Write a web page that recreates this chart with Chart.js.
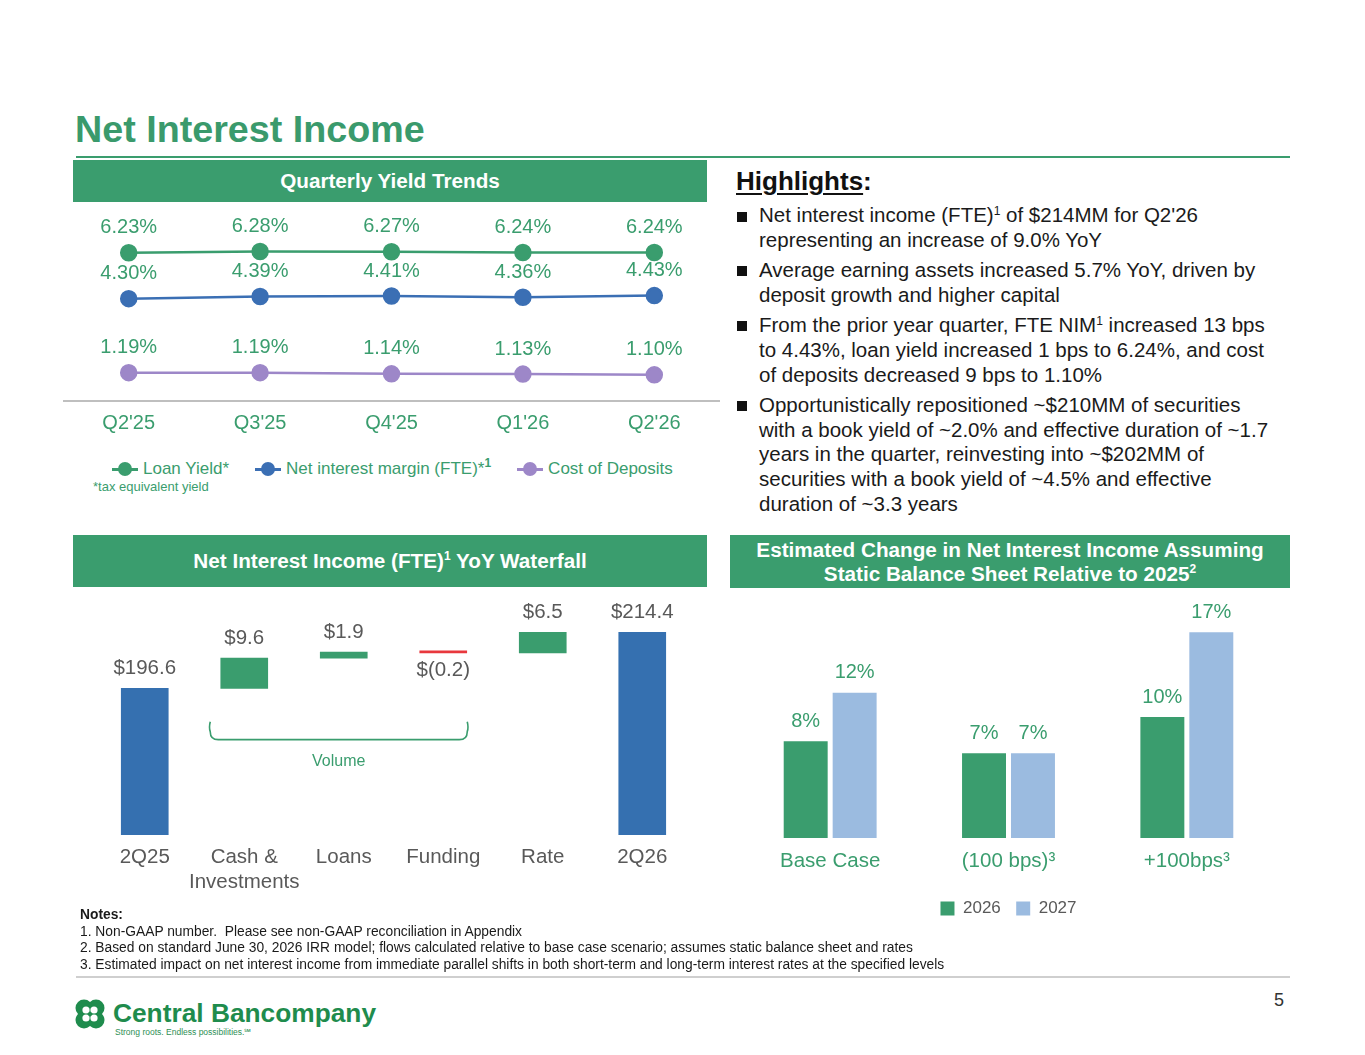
<!DOCTYPE html>
<html><head><meta charset="utf-8">
<script src="https://cdn.jsdelivr.net/npm/chart.js@4.4.1/dist/chart.umd.min.js"></script>
<style>
html,body{margin:0;padding:0;background:#fff;}
body{width:1365px;height:1055px;position:relative;overflow:hidden;font-family:"Liberation Sans",Arial,sans-serif;color:#1a1a1a;}
.abs{position:absolute;}
.title{left:75px;top:107px;font-size:37.7px;font-weight:bold;color:#3A9A6C;line-height:44px;white-space:nowrap;}
.rule{left:76px;top:156px;width:1214px;height:2px;background:#3A9D6E;}
.hdr{background:#3A9D6E;color:#fff;font-weight:bold;display:flex;align-items:center;justify-content:center;text-align:center;font-size:20.7px;line-height:24px;}
.hdr sup{font-size:12px;line-height:0;vertical-align:8px;}
.hl{left:736px;top:166px;font-size:26px;font-weight:bold;line-height:30px;color:#111;}
.hl u{text-decoration-thickness:2px;text-underline-offset:3px;}
.bul{left:737px;top:203px;width:560px;font-size:20.5px;line-height:24.8px;color:#1a1a1a;}
.bul p{margin:0 0 5.4px 0;padding-left:22px;position:relative;white-space:nowrap;}
.bul p::before{content:"";position:absolute;left:0;top:8.5px;width:10px;height:10px;background:#111;}
.bul sup{font-size:12px;line-height:0;vertical-align:7px;}
.lg{left:112px;top:458px;display:flex;align-items:center;font-size:17px;color:#3A9D6E;white-space:nowrap;line-height:22px;}
.lg .it{display:flex;align-items:center;margin-right:26px;}
.lg .mk{position:relative;width:26px;height:14px;margin-right:5px;}
.lg .mk i{position:absolute;left:0;top:6px;width:26px;height:2.5px;}
.lg .mk b{position:absolute;left:6px;top:0;width:14px;height:14px;border-radius:50%;}
.lg sup{font-size:12px;font-weight:bold;line-height:0;vertical-align:7px;}
.fn{left:93px;top:479px;font-size:13px;color:#3A9D6E;line-height:16px;}
.notes{left:80px;top:907px;font-size:13.8px;line-height:16.7px;color:#1a1a1a;white-space:nowrap;}
.grule{left:76px;top:976px;width:1214px;height:2px;background:#CFCFCF;}
.pg{left:1260px;top:989px;width:24px;text-align:right;font-size:18px;color:#333;line-height:22px;}
.logo{left:113px;top:998px;font-size:26.3px;font-weight:bold;color:#1F8C4D;line-height:30px;white-space:nowrap;}
.tag{left:115px;top:1027px;font-size:8.5px;color:#2E8F55;line-height:10px;white-space:nowrap;}
canvas{position:absolute;}
</style>
</head>
<body>
<div class="abs title">Net Interest Income</div>
<div class="abs rule"></div>

<div class="abs hdr" style="left:73px;top:160px;width:634px;height:42px;">Quarterly Yield Trends</div>
<div class="abs hdr" style="left:73px;top:535px;width:634px;height:52px;"><span>Net Interest Income (FTE)<sup>1</sup> YoY Waterfall</span></div>
<div class="abs hdr" style="left:730px;top:535px;width:560px;height:53px;"><span>Estimated Change in Net Interest Income Assuming<br>Static Balance Sheet Relative to 2025<sup>2</sup></span></div>

<div class="abs hl"><u>Highlights</u>:</div>
<div class="abs bul">
<p>Net interest income (FTE)<sup>1</sup> of $214MM for Q2'26<br>representing an increase of 9.0% YoY</p>
<p>Average earning assets increased 5.7% YoY, driven by<br>deposit growth and higher capital</p>
<p>From the prior year quarter, FTE NIM<sup>1</sup> increased 13 bps<br>to 4.43%, loan yield increased 1 bps to 6.24%, and cost<br>of deposits decreased 9 bps to 1.10%</p>
<p>Opportunistically repositioned ~$210MM of securities<br>with a book yield of ~2.0% and effective duration of ~1.7<br>years in the quarter, reinvesting into ~$202MM of<br>securities with a book yield of ~4.5% and effective<br>duration of ~3.3 years</p>
</div>

<canvas id="yieldChart" style="left:63px;top:200px;width:657px;height:245px;" width="657" height="245"></canvas>
<div class="abs lg" id="yieldLegend"></div>
<div class="abs fn">*tax equivalent yield</div>

<canvas id="wfChart" style="left:73px;top:595px;width:634px;height:310px;" width="634" height="310"></canvas>
<canvas id="niiChart" style="left:730px;top:590px;width:560px;height:337px;" width="560" height="337"></canvas>

<div class="abs notes"><b>Notes:</b><br>1. Non-GAAP number.&nbsp; Please see non-GAAP reconciliation in Appendix<br>2. Based on standard June 30, 2026 IRR model; flows calculated relative to base case scenario; assumes static balance sheet and rates<br>3. Estimated impact on net interest income from immediate parallel shifts in both short-term and long-term interest rates at the specified levels</div>
<div class="abs grule"></div>
<div class="abs pg">5</div>

<svg class="abs" style="left:74px;top:998px;" width="32" height="32" viewBox="0 0 32 32">
  <g fill="#1F8C4D">
    <circle cx="10" cy="10" r="8.5"/><circle cx="22" cy="10" r="8.5"/>
    <circle cx="10" cy="22" r="8.5"/><circle cx="22" cy="22" r="8.5"/>
  </g>
  <g fill="#fff">
    <circle cx="12" cy="12" r="3.6"/><circle cx="20" cy="12" r="3.6"/>
    <circle cx="12" cy="20" r="3.6"/><circle cx="20" cy="20" r="3.6"/>
  </g>
  <circle cx="16" cy="16" r="2" fill="#1F8C4D"/>
</svg>
<div class="abs logo">Central Bancompany</div>
<div class="abs tag">Strong roots. Endless possibilities.&#8480;</div>

<script>
// ---------- DATA ----------
const quarters = ["Q2'25", "Q3'25", "Q4'25", "Q1'26", "Q2'26"];
const loanYield = [6.23, 6.28, 6.27, 6.24, 6.24];
const netInterestMargin = [4.30, 4.39, 4.41, 4.36, 4.43];
const costOfDeposits = [1.19, 1.19, 1.14, 1.13, 1.10];
const yieldSeriesNames = ["Loan Yield*", "Net interest margin (FTE)*", "Cost of Deposits"];

const wfCategories = ["2Q25", ["Cash &", "Investments"], "Loans", "Funding", "Rate", "2Q26"];
const wfValues = [196.6, 9.6, 1.9, -0.2, 6.5, 214.4];
const wfIsTotal = [true, false, false, false, false, true];
const wfLabels = ["$196.6", "$9.6", "$1.9", "$(0.2)", "$6.5", "$214.4"];

const scenarios = ["Base Case", "(100 bps)\u00B3", "+100bps\u00B3"];
const niiChange2026 = [8, 7, 10];
const niiChange2027 = [12, 7, 17];
const niiYears = ["2026", "2027"];

// ---------- STYLE ----------
const FONT = '"Liberation Sans", Arial, sans-serif';
Chart.defaults.font.family = FONT;
Chart.defaults.animation = false;
const GREEN = '#3A9D6E';
const BLUE = '#3B6FB4';
const PURPLE = '#9D87C8';
const BAR_BLUE = '#3570B0';
const LIGHT_BLUE = '#9BBBE0';
const RED = '#E8383D';
const GREY = '#595959';

function makeValueLabels(cfg) {
  return {
    id: 'valueLabels',
    afterDatasetsDraw(chart) {
      const ctx = chart.ctx;
      ctx.save();
      ctx.font = cfg.size + 'px ' + FONT;
      ctx.textAlign = 'center';
      ctx.textBaseline = 'middle';
      ctx.fillStyle = cfg.color;
      chart.data.datasets.forEach((ds, di) => {
        const meta = chart.getDatasetMeta(di);
        meta.data.forEach((el, i) => {
          const text = cfg.format(ds, di, i);
          let y;
          if (meta.type === 'bar') {
            const top = Math.min(el.y, el.base), bot = Math.max(el.y, el.base);
            y = (cfg.below && cfg.below(ds, di, i)) ? bot + cfg.belowOffset : top - cfg.offset;
          } else {
            y = el.y - cfg.offset;
          }
          ctx.fillText(text, el.x, y);
        });
      });
      ctx.restore();
    }
  };
}

// ---------- YIELD LINE CHART ----------
const yieldColors = [GREEN, BLUE, PURPLE];
const yieldData = [loanYield, netInterestMargin, costOfDeposits];
new Chart(document.getElementById('yieldChart'), {
  type: 'line',
  data: {
    labels: quarters,
    datasets: yieldData.map((d, k) => ({
      label: yieldSeriesNames[k],
      data: d,
      borderColor: yieldColors[k],
      backgroundColor: yieldColors[k],
      pointBackgroundColor: yieldColors[k],
      pointBorderColor: yieldColors[k],
      borderWidth: 2.5,
      pointRadius: 7.5,
      tension: 0,
      clip: false
    }))
  },
  options: {
    responsive: false,
    layout: { autoPadding: false, padding: { top: 10.6, bottom: 0, left: 0, right: 0 } },
    plugins: { legend: { display: false }, tooltip: { enabled: false } },
    scales: {
      x: {
        offset: true,
        grid: { display: false, drawTicks: false, tickLength: 0 },
        border: { display: true, color: '#BFBFBF', width: 2 },
        ticks: { color: GREEN, font: { size: 20 }, padding: 10, maxRotation: 0 }
      },
      y: { display: false, min: 0, max: 8 }
    }
  },
  plugins: [makeValueLabels({
    size: 20, color: GREEN, offset: 25,
    format: (ds, di, i) => ds.data[i].toFixed(2) + '%'
  })]
});

// HTML legend built from the series
const lgEl = document.getElementById('yieldLegend');
yieldSeriesNames.forEach((name, k) => {
  const it = document.createElement('span');
  it.className = 'it';
  const sup = k === 1 ? '<sup>1</sup>' : '';
  it.innerHTML = '<span class="mk"><i style="background:' + yieldColors[k] + '"></i><b style="background:' + yieldColors[k] + '"></b></span><span>' + name + sup + '</span>';
  lgEl.appendChild(it);
});

// ---------- WATERFALL ----------
const wfRanges = [];
let running = 0;
wfValues.forEach((v, i) => {
  if (wfIsTotal[i]) { wfRanges.push([0, v]); running = v; }
  else { wfRanges.push([running, running + v]); running += v; }
});
const wfColors = wfValues.map((v, i) => wfIsTotal[i] ? BAR_BLUE : (v < 0 ? RED : GREEN));

const braceAnnotation = {
  id: 'volumeBrace',
  afterDatasetsDraw(chart) {
    const ctx = chart.ctx, xs = chart.scales.x, ys = chart.scales.y;
    const left = xs.getPixelForValue(1) - 34;
    const right = xs.getPixelForValue(3) + 24;
    const top = ys.getPixelForValue(186);
    const bot = ys.getPixelForValue(180.3);
    const r = 8;
    ctx.save();
    ctx.strokeStyle = GREEN;
    ctx.lineWidth = 1.6;
    ctx.beginPath();
    ctx.moveTo(left, top);
    ctx.quadraticCurveTo(left - 1.5, top + 6, left, bot - r);
    ctx.quadraticCurveTo(left, bot, left + r, bot);
    ctx.lineTo(right - r, bot);
    ctx.quadraticCurveTo(right, bot, right, bot - r);
    ctx.quadraticCurveTo(right + 1.5, top + 6, right, top);
    ctx.stroke();
    ctx.fillStyle = GREEN;
    ctx.font = '16px ' + FONT;
    ctx.textAlign = 'center';
    ctx.textBaseline = 'middle';
    ctx.fillText('Volume', (left + right) / 2, bot + 22);
    ctx.restore();
  }
};

new Chart(document.getElementById('wfChart'), {
  type: 'bar',
  data: {
    labels: wfCategories,
    datasets: [{
      label: 'Net Interest Income (FTE)',
      data: wfRanges,
      backgroundColor: wfColors,
      borderWidth: 0,
      barThickness: 47,
      minBarLength: 2
    }]
  },
  options: {
    responsive: false,
    layout: { autoPadding: false, padding: { top: 4, bottom: 0.8, left: 22, right: 15 } },
    plugins: { legend: { display: false }, tooltip: { enabled: false } },
    scales: {
      x: {
        grid: { display: false, drawTicks: false, tickLength: 0 },
        border: { display: false },
        ticks: { color: GREY, font: { size: 20.5 }, padding: 10, maxRotation: 0, minRotation: 0, autoSkip: false }
      },
      y: { display: false, min: 150, max: 225 }
    }
  },
  plugins: [makeValueLabels({
    size: 20.5, color: GREY, offset: 20, belowOffset: 18,
    format: (ds, di, i) => wfLabels[i],
    below: (ds, di, i) => wfValues[i] < 0
  }), braceAnnotation]
});

// ---------- NII SENSITIVITY ----------
new Chart(document.getElementById('niiChart'), {
  type: 'bar',
  data: {
    labels: scenarios,
    datasets: [
      { label: niiYears[0], data: niiChange2026, backgroundColor: GREEN, borderWidth: 0, categoryPercentage: 0.549, barPercentage: 0.898 },
      { label: niiYears[1], data: niiChange2027, backgroundColor: LIGHT_BLUE, borderWidth: 0, categoryPercentage: 0.549, barPercentage: 0.898 }
    ]
  },
  options: {
    responsive: false,
    layout: { autoPadding: false, padding: { top: 6, bottom: 0, left: 11, right: 14 } },
    plugins: {
      tooltip: { enabled: false },
      legend: {
        position: 'bottom',
        labels: { color: GREY, font: { size: 17 }, boxWidth: 14, boxHeight: 14, padding: 15.4 }
      }
    },
    scales: {
      x: {
        grid: { display: false, drawTicks: false, tickLength: 0 },
        border: { display: false },
        ticks: { color: GREEN, font: { size: 20.5 }, padding: 11, maxRotation: 0 }
      },
      y: { display: false, min: 0, max: 20 }
    }
  },
  plugins: [makeValueLabels({
    size: 20, color: GREEN, offset: 20,
    format: (ds, di, i) => ds.data[i] + '%'
  })]
});
</script>
</body></html>
